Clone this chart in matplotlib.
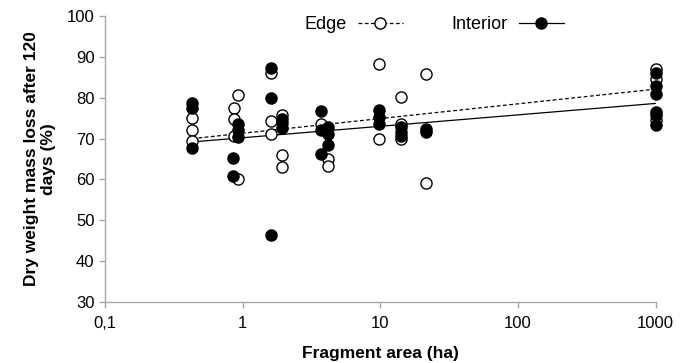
import matplotlib
matplotlib.use('Agg')
import matplotlib.pyplot as plt
from matplotlib.lines import Line2D
import numpy as np

plt.rcParams['font.family'] = ['Liberation Sans', 'DejaVu Sans']

# edge plots (open circles)
edge_area = [0.43, 0.43, 0.43,
             0.925, 0.865, 0.865, 0.865, 0.925,
             1.6, 1.6, 1.6,
             1.93, 1.93, 1.93,
             3.7, 4.16, 4.16,
             9.77, 9.77,
             14.1, 14.1, 14.1,
             21.3, 21.3,
             1000, 1000, 1000]
edge_loss = [75.0, 72.0, 69.3,
             80.7, 77.5, 74.8, 70.6, 60.0,
             86.0, 74.3, 71.1,
             75.8, 66.0, 63.1,
             73.5, 65.0, 63.3,
             88.2, 69.9,
             80.1, 73.6, 69.8,
             85.7, 59.1,
             87.0, 84.5, 74.5]

# interior plots (filled circles)
int_area = [0.43, 0.43, 0.43,
            0.925, 0.925, 0.925, 0.85, 0.85,
            1.6, 1.6, 1.6,
            1.93, 1.93, 1.93,
            3.7, 3.7, 3.7,
            4.16, 4.16, 4.16,
            9.77, 9.77, 9.77,
            14.1, 14.1, 14.1,
            21.3, 21.3,
            1000, 1000, 1000, 1000, 1000, 1000]
int_loss = [78.8, 77.6, 67.8,
            73.5, 72.0, 70.5, 65.3, 60.8,
            87.2, 80.0, 46.5,
            74.9, 73.8, 72.6,
            76.8, 72.1, 66.2,
            72.8, 71.2, 68.4,
            77.0, 75.2, 73.6,
            72.8, 71.6, 70.6,
            72.3, 71.7,
            86.0, 82.8, 81.0, 76.5, 75.8, 73.3]

# log-linear trend lines: y = a + b*log10(x)
edge_fit = (71.3, 3.6)
int_fit = (70.2, 2.8)

xticks = [0.1, 1, 10, 100, 1000]
xticklabels = ['0,1', '1', '10', '100', '1000']

fig = plt.figure(figsize=(6.92, 3.63), dpi=100)
ax = fig.add_axes([0.1517, 0.168, 0.7959, 0.788])

xs = np.logspace(np.log10(min(edge_area)), 3, 50)
ax.plot(xs, edge_fit[0] + edge_fit[1] * np.log10(xs), color='black', lw=0.9,
        ls=(0, (3, 2)), zorder=2)
ax.plot(xs, int_fit[0] + int_fit[1] * np.log10(xs), color='black', lw=0.9,
        zorder=2)

ax.plot(edge_area, edge_loss, 'o', ms=8, mfc='white', mec='black', mew=1,
        ls='none', zorder=3, clip_on=False)
ax.plot(int_area, int_loss, 'o', ms=8, mfc='black', mec='black', mew=1,
        ls='none', zorder=4, clip_on=False)

ax.set_xscale('log')
ax.set_xlim(0.1, 1000)
ax.set_ylim(30, 100)
ax.set_xticks(xticks)
ax.set_xticklabels(xticklabels)
ax.xaxis.set_minor_locator(matplotlib.ticker.NullLocator())
ax.set_yticks(range(30, 101, 10))

for s in ['top', 'right']:
    ax.spines[s].set_visible(False)
for s in ['left', 'bottom']:
    ax.spines[s].set_color('#a6a6a6')
    ax.spines[s].set_linewidth(1)
ax.tick_params(axis='both', colors='#a6a6a6', length=4, width=1,
               labelsize=12, labelcolor='black', direction='out')
ax.tick_params(axis='x', pad=6)

ax.set_xlabel('Fragment area (ha)', fontsize=12.5, fontweight='bold', labelpad=11)
ax.set_ylabel('Dry weight mass loss after 120\ndays (%)', fontsize=12.5,
              fontweight='bold', labelpad=8, linespacing=1.15)

handles = [Line2D([], [], color='black', lw=0.9, ls=(0, (3, 2)), marker='o',
                  ms=8, mfc='white', mec='black'),
           Line2D([], [], color='black', lw=0.9, marker='o', ms=8,
                  mfc='black', mec='black')]
ax.legend(handles, ['Edge', 'Interior'], loc='center', ncol=2,
          bbox_to_anchor=(0.598, 0.97), frameon=False, markerfirst=False,
          fontsize=13, handlelength=2.5, columnspacing=2.7, handletextpad=0.6)

fig.savefig('out.png', dpi=100)
